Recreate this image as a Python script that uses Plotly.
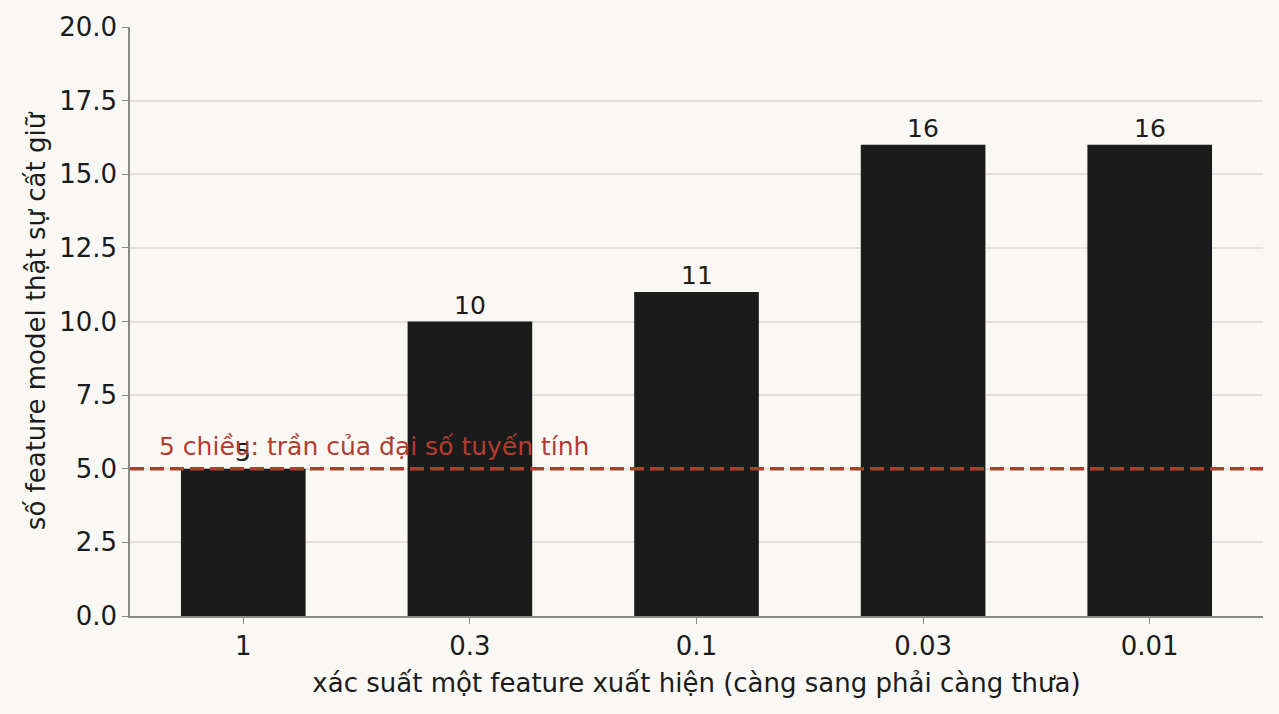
import plotly.graph_objects as go

categories = ["1", "0.3", "0.1", "0.03", "0.01"]
values = [5, 10, 11, 16, 16]
ceiling = 5
ceiling_label = "5 chiều: trần của đại số tuyến tính"
x_title = "xác suất một feature xuất hiện (càng sang phải càng thưa)"
y_title = "số feature model thật sự cất giữ"

BG = "#f9f8f4"
INK = "#1b1b1b"
RED = "#b43c2e"
AXIS = "#8a8a8a"
FONT = "DejaVu Sans"

fig = go.Figure()
fig.add_trace(go.Bar(x=categories, y=values, marker=dict(color=INK, line=dict(width=0)),
                     width=0.55, hoverinfo="skip"))

fig.add_shape(type="line", xref="paper", x0=0, x1=1, yref="y", y0=ceiling, y1=ceiling,
              line=dict(color=RED, width=3.5, dash="14px,6px"), layer="above")

for i, v in enumerate(values):
    fig.add_annotation(x=i, y=v, text=str(v), showarrow=False, yanchor="bottom", yshift=0,
                       font=dict(family=FONT, size=25, color=INK))

fig.add_annotation(xref="paper", x=0.024, y=ceiling, yanchor="bottom", xanchor="left", yshift=6,
                   text=ceiling_label, showarrow=False, font=dict(family=FONT, size=25, color=RED))

fig.update_layout(
    width=1279, height=714, paper_bgcolor=BG, plot_bgcolor=BG,
    margin=dict(l=130, r=16, t=27, b=98),
    font=dict(family=FONT, size=26, color=INK),
    showlegend=False,
)
fig.update_xaxes(type="category", title=dict(text=x_title, font=dict(size=26), standoff=14),
                 showline=True, linecolor=AXIS, linewidth=1.5, ticks="outside", ticklen=6,
                 tickcolor=AXIS, showgrid=False, tickfont=dict(size=26))
fig.update_yaxes(title=dict(text=y_title, font=dict(size=26), standoff=6), range=[0, 20],
                 dtick=2.5, tickformat=".1f", showline=True, linecolor=AXIS, linewidth=1.5,
                 ticks="outside", ticklen=6, tickcolor=AXIS, gridcolor="#e2e0d8", gridwidth=1.5,
                 zeroline=False, tickfont=dict(size=26))

fig.write_html("out.html")
